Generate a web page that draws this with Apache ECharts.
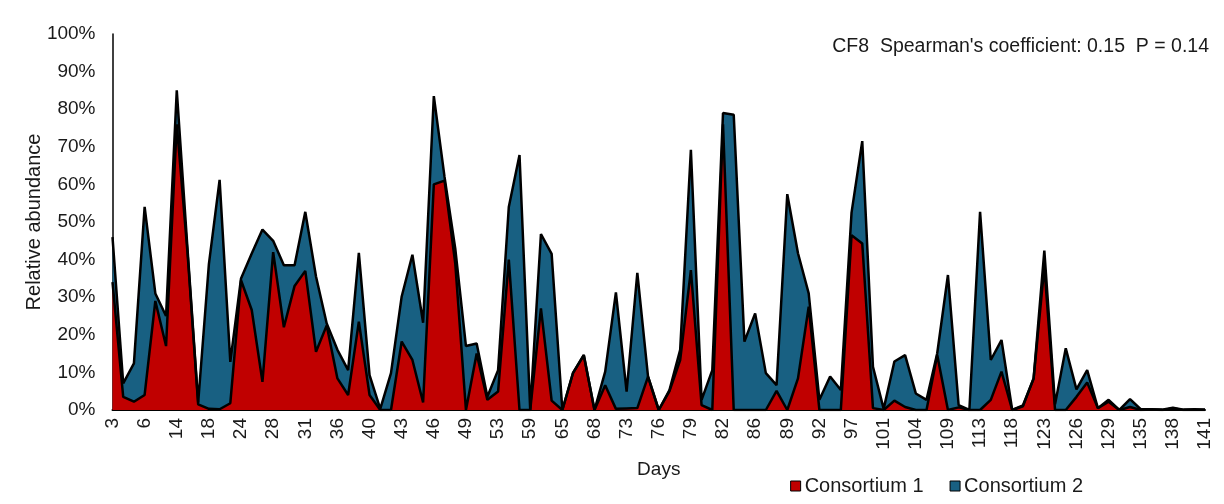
<!DOCTYPE html>
<html>
<head>
<meta charset="utf-8">
<script src="https://cdn.jsdelivr.net/npm/echarts@6/dist/echarts.min.js"></script>
<style>
  html, body { margin: 0; padding: 0; background: #fff; }
  #chart { width: 1224px; height: 504px; }
</style>
</head>
<body>
<div id="chart"></div>
<script>
// Sampling days (every third one is printed on the axis)
const days = [
  3, 4, 5, 6, 8, 11, 14, 16, 17, 18, 20, 22, 24, 26, 27, 28, 29, 30, 31, 33, 34,
  36, 38, 39, 40, 41, 42, 43, 44, 45, 46, 47, 48, 49, 50, 52, 53, 55, 57, 59, 61, 63,
  65, 66, 67, 68, 70, 71, 73, 74, 75, 76, 77, 78, 79, 80, 81, 82, 83, 85, 86, 87, 88,
  89, 90, 91, 92, 94, 96, 97, 98, 100, 101, 102, 103, 104, 106, 108, 109, 111, 112,
  113, 115, 117, 118, 120, 122, 123, 124, 125, 126, 127, 128, 129, 131, 133, 135,
  136, 137, 138, 139, 140, 141
];

// Relative abundance (%) of each consortium
const consortium1 = [
  34, 3.5, 2.2, 4, 29, 17, 76, 42, 1.5, 0.3, 0.2, 1.8, 34.5, 26.6, 7.5, 42, 22, 33,
  37, 15.5, 22.5, 8.4, 4, 23.5, 4, 0, 0, 18.2, 13.3, 2, 60, 61, 39, 0, 15, 2.7, 4.9,
  40, 0, 0, 27, 2.5, 0, 9.9, 14.6, 0, 6.6, 0.3, 0.4, 0.5, 8.9, 0, 5, 13.3, 37.2, 1.3,
  0, 76, 0, 0, 0, 0, 5.1, 0, 8.4, 27.5, 0, 0, 0, 46.5, 44.3, 0.5, 0, 2.5, 0.8, 0, 0,
  14.6, 0, 0.7, 0, 0, 2.7, 10.2, 0, 1, 8.4, 38.1, 0, 0, 3.5, 7.3, 0.5, 2.2, 0, 0.8,
  0, 0.1, 0, 0.4, 0, 0, 0
];
const consortium2 = [
  12, 3.6, 10.2, 50, 2, 8, 9, 1, 0.5, 38.5, 61, 11, 0.5, 15, 40.5, 3, 16.5, 5.5,
  15.7, 20, 0.5, 7.6, 6.6, 18.3, 5.3, 0.3, 9.8, 12, 28, 21.2, 23.5, 1, 4, 17, 2.7,
  0.8, 5.7, 14, 67.8, 0, 19.8, 39, 0, 0, 0, 0, 3.6, 31, 4.5, 36, 0, 0, 0.3, 2.7, 32,
  1.4, 10.6, 3, 78.5, 18.2, 25.7, 9.8, 1.5, 57.4, 33.3, 3.5, 2.7, 8.9, 5.3, 6, 27.2,
  11, 0.3, 10.4, 13.8, 4.4, 2.7, 0.5, 35.9, 0.6, 0, 52.7, 10.6, 8.4, 0, 0.2, 0, 4.3,
  1.5, 16.4, 2, 3.3, 0, 0.5, 0, 2.1, 0.2, 0.1, 0.1, 0.2, 0.1, 0.2, 0.1
];

const seriesNames = ['Consortium 1', 'Consortium 2'];
const seriesColors = ['#C00000', '#186082'];
const note = "CF8  Spearman's coefficient: 0.15  P = 0.14";

const FONT = "'Liberation Sans', Arial, sans-serif";
const TEXT = '#1a1a1a';

const chart = echarts.init(document.getElementById('chart'), null, { renderer: 'canvas' });

chart.setOption({
  animation: false,
  backgroundColor: '#ffffff',
  textStyle: { fontFamily: FONT, color: TEXT },
  title: {
    text: note,
    right: 10,
    top: 32,
    textStyle: { fontFamily: FONT, fontSize: 19.5, fontWeight: 'normal', color: TEXT }
  },
  legend: {
    right: 136,
    top: 471,
    itemWidth: 10,
    itemHeight: 10,
    itemGap: 26,
    icon: 'rect',
    textStyle: { fontFamily: FONT, fontSize: 20, color: TEXT, padding: [0, 0, 0, -1] },
    data: seriesNames.map((n, k) => ({
      name: n,
      itemStyle: { color: seriesColors[k], borderColor: '#000', borderWidth: 1 }
    }))
  },
  grid: { left: 112.5, right: 19, top: 34, bottom: 94 },
  xAxis: {
    type: 'category',
    data: days,
    boundaryGap: false,
    name: 'Days',
    nameLocation: 'middle',
    nameGap: 50,
    nameMoveOverlap: false,
    nameTextStyle: { fontFamily: FONT, fontSize: 19, color: TEXT },
    axisLine: { lineStyle: { color: '#000', width: 2 } },
    axisTick: { show: false },
    axisLabel: {
      interval: 2,
      rotate: 90,
      margin: 8,
      fontFamily: FONT,
      fontSize: 19,
      color: TEXT
    },
    splitLine: { show: false }
  },
  yAxis: {
    type: 'value',
    min: 0,
    max: 100,
    interval: 10,
    name: 'Relative abundance',
    nameLocation: 'middle',
    nameGap: 68,
    nameMoveOverlap: false,
    nameTextStyle: { fontFamily: FONT, fontSize: 20, color: TEXT },
    axisLine: { show: true, lineStyle: { color: '#000', width: 1.5 } },
    axisTick: { show: false },
    axisLabel: {
      formatter: '{value}%',
      margin: 17,
      fontFamily: FONT,
      fontSize: 19,
      color: TEXT
    },
    splitLine: { show: false }
  },
  series: [consortium1, consortium2].map((vals, k) => ({
    name: seriesNames[k],
    type: 'line',
    stack: 'abundance',
    data: vals,
    showSymbol: false,
    symbol: 'none',
    itemStyle: { color: seriesColors[k] },
    lineStyle: { color: '#000', width: 2.5 },
    areaStyle: { color: seriesColors[k], opacity: 1 }
  }))
});
</script>
</body>
</html>
